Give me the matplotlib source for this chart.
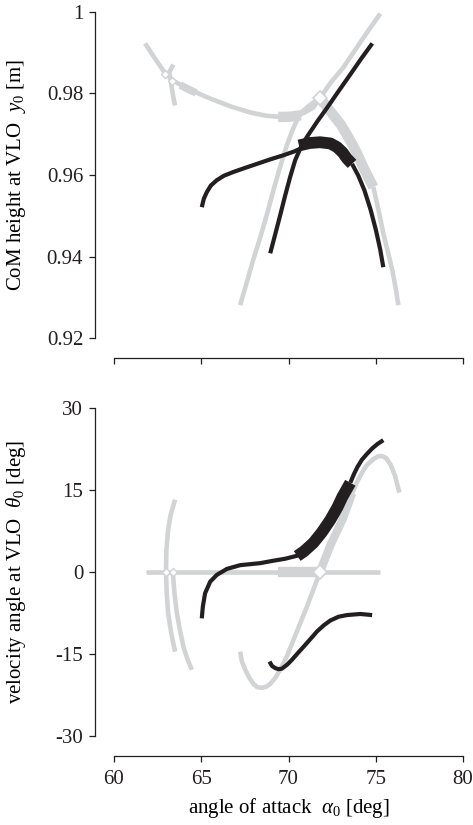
import matplotlib
matplotlib.use("Agg")
import matplotlib.pyplot as plt

plt.rcParams["font.family"] = ["Liberation Serif", "DejaVu Serif"]
plt.rcParams["mathtext.fontset"] = "custom"
plt.rcParams["mathtext.rm"] = "Liberation Serif"
plt.rcParams["mathtext.it"] = "Liberation Serif:italic"
plt.rcParams["axes.unicode_minus"] = False

GRAY = "#d1d3d4"
BLACK = "#231f20"
LW_THIN = 3.0
LW_GRAY = 3.3
LW_THICK = 8.5
LW_GRAY_THICK = 7.5

# ---------------- top panel: CoM height y0 vs alpha0 ----------------
# gray (unstable) branches
top_arc_a = [61.78, 62.24, 62.81, 63.38, 64.19, 65.34, 66.66, 67.80, 68.70, 69.52, 70.30, 70.90, 71.42, 71.80]
top_arc_y = [0.9922, 0.9892, 0.9856, 0.9831, 0.9812, 0.9790, 0.9768, 0.9753, 0.9745, 0.9742, 0.9744, 0.9752, 0.9765, 0.9788]
top_arc_thick_a = [63.80, 64.20, 64.70]
top_arc_thick_y = [0.9820, 0.9811, 0.9801]
top_arc_thick2_a = [69.41, 69.80, 70.20, 70.70]
top_arc_thick2_y = [0.9742, 0.9742, 0.9743, 0.9746]
top_left_a = [63.40, 63.16, 63.25, 63.31, 63.40, 63.50]
top_left_y = [0.9870, 0.9851, 0.9831, 0.9814, 0.9790, 0.9770]
top_up_a = [71.80, 72.40, 73.14, 74.29, 75.26]
top_up_y = [0.9788, 0.9825, 0.9863, 0.9936, 0.9995]
top_rise_a = [67.23, 67.60, 67.97, 68.40, 68.78, 69.15, 69.52, 69.90, 70.21, 70.50, 70.79, 71.10, 71.42, 71.80]
top_rise_y = [0.9281, 0.9336, 0.9391, 0.9450, 0.9506, 0.9565, 0.9620, 0.9672, 0.9708, 0.9736, 0.9755, 0.9767, 0.9777, 0.9788]
top_fall_thick_a = [71.80, 72.50, 73.00, 73.43, 73.90, 74.29, 74.86]
top_fall_thick_y = [0.9788, 0.9750, 0.9723, 0.9692, 0.9655, 0.9618, 0.9570]
top_fall_a = [74.86, 75.20, 75.43, 75.70, 75.95, 76.15, 76.29]
top_fall_y = [0.9570, 0.9505, 0.9457, 0.9410, 0.9366, 0.9320, 0.9281]
top_fix_a = [62.93, 63.31, 71.80]
top_fix_y = [0.9848, 0.9831, 0.9788]

# black (stable) branches
top_b1_a = [65.03, 65.15, 65.32, 65.55, 65.89, 66.30, 66.83, 67.50, 68.19, 68.95, 69.70, 70.30, 70.67]
top_b1_y = [0.9521, 0.9542, 0.9558, 0.9574, 0.9587, 0.9598, 0.9607, 0.9617, 0.9627, 0.9638, 0.9648, 0.9657, 0.9664]
top_b1_thick_a = [70.60, 71.20, 71.80, 72.40, 72.78, 73.10, 73.35, 73.64]
top_b1_thick_y = [0.9672, 0.9678, 0.9680, 0.9677, 0.9668, 0.9655, 0.9640, 0.9627]
top_b1_tail_a = [73.64, 74.00, 74.35, 74.70, 75.00, 75.25, 75.43]
top_b1_tail_y = [0.9627, 0.9598, 0.9562, 0.9515, 0.9466, 0.9418, 0.9374]
top_b2_a = [68.95, 69.24, 69.52, 69.81, 70.10, 70.38, 70.73, 71.07, 71.65, 72.22, 72.85, 73.54, 74.17, 74.80]
top_b2_y = [0.9408, 0.9455, 0.9501, 0.9550, 0.9596, 0.9636, 0.9670, 0.9694, 0.9731, 0.9765, 0.9804, 0.9846, 0.9885, 0.9922]

# ---------------- bottom panel: velocity angle theta0 vs alpha0 ----------------
bot_flat_a = [61.84, 75.26]
bot_flat_t = [0.0, 0.0]
bot_flat_thick_a = [69.41, 71.65]
bot_flat_thick_t = [0.0, 0.0]
bot_arc1_a = [63.50, 63.25, 63.10, 63.00, 62.98, 63.02, 63.10, 63.28, 63.50]
bot_arc1_t = [13.2, 10.5, 7.7, 3.9, 0.0, -3.8, -7.5, -11.2, -14.6]
bot_arc2_a = [63.37, 63.46, 63.60, 63.78, 63.98, 64.20, 64.46]
bot_arc2_t = [0.0, -3.8, -7.5, -10.7, -13.7, -15.9, -17.9]
bot_s_a = [67.23, 67.33, 67.52, 67.76, 67.99, 68.22, 68.47, 68.72, 68.95, 69.24, 69.52, 69.91, 70.29, 70.67, 71.06, 71.63, 71.80]
bot_s_t = [-14.6, -16.4, -17.9, -19.4, -20.5, -21.1, -21.2, -21.0, -20.5, -19.4, -17.9, -15.4, -12.4, -9.4, -6.3, -1.5, 0.0]
bot_s_thick_a = [71.80, 72.39, 73.08, 73.65]
bot_s_thick_t = [0.0, 4.8, 9.5, 14.4]
bot_s_top_a = [73.65, 73.90, 74.20, 74.50, 74.86, 75.10, 75.35, 75.60, 75.85, 76.10, 76.35]
bot_s_top_t = [14.4, 16.3, 18.1, 19.6, 20.6, 21.1, 21.2, 20.8, 19.6, 17.6, 14.5]
bot_fix_a = [63.00, 63.37, 71.80]
bot_fix_t = [0.0, 0.0, 0.0]

bot_b1_a = [65.03, 65.09, 65.22, 65.51, 65.89, 66.47, 67.23, 68.38, 69.14, 69.80, 70.30, 70.55]
bot_b1_t = [-8.5, -6.35, -3.9, -1.8, -0.55, 0.55, 1.23, 1.6, 2.05, 2.4, 2.8, 3.0]
bot_b1_thick_a = [70.50, 70.90, 71.42, 71.90, 72.39, 72.80, 73.08, 73.54]
bot_b1_thick_t = [2.9, 3.8, 5.3, 7.2, 9.5, 11.8, 13.7, 16.3]
bot_b1_tail_a = [73.54, 73.75, 73.95, 74.20, 74.50, 74.80, 75.10, 75.43]
bot_b1_tail_t = [16.3, 17.9, 19.2, 20.5, 21.6, 22.6, 23.4, 24.1]
bot_b2_a = [68.91, 69.05, 69.24, 69.43, 69.62, 69.91, 70.19, 70.52, 70.86, 71.25, 71.63, 72.01, 72.39, 72.87, 73.35, 74.11, 74.79]
bot_b2_t = [-16.4, -17.2, -17.6, -17.8, -17.7, -17.0, -16.1, -14.9, -13.7, -12.3, -10.9, -9.8, -8.9, -8.2, -7.9, -7.7, -7.9]

x_ticks = [60, 65, 70, 75, 80]
top_yticks = [0.92, 0.94, 0.96, 0.98, 1.0]
top_yticklabels = ["0.92", "0.94", "0.96", "0.98", "1"]
bot_yticks = [-30, -15, 0, 15, 30]
bot_yticklabels = ["-30", "-15", "0", "15", "30"]

fig = plt.figure(figsize=(4.73, 8.25), dpi=100)
ax1 = fig.add_axes([0.241, 0.590, 0.738, 0.396])
ax2 = fig.add_axes([0.241, 0.108, 0.738, 0.3976])


def line(ax, x, y, color, lw, z=2):
    ax.plot(x, y, color=color, lw=lw, solid_capstyle="butt", solid_joinstyle="round", zorder=z)


def style(ax):
    for s in ("top", "right"):
        ax.spines[s].set_visible(False)
    ax.spines["left"].set_position(("outward", 13.7))
    ax.spines["bottom"].set_position(("outward", 14.4))
    for s in ("left", "bottom"):
        ax.spines[s].set_linewidth(0.9)
        ax.spines[s].set_color(BLACK)
    ax.tick_params(direction="out", length=4.5, width=0.9, labelsize=15, colors=BLACK, pad=4)
    ax.tick_params(axis="x", pad=6)
    ax.set_xlim(60, 80)
    ax.set_xticks(x_ticks)


# top panel
line(ax1, top_arc_a, top_arc_y, GRAY, LW_GRAY)
line(ax1, top_arc_thick_a, top_arc_thick_y, GRAY, 5.5)
line(ax1, top_arc_thick2_a, top_arc_thick2_y, GRAY, LW_GRAY_THICK)
line(ax1, top_left_a, top_left_y, GRAY, LW_GRAY)
line(ax1, top_up_a, top_up_y, GRAY, LW_GRAY)
line(ax1, top_rise_a, top_rise_y, GRAY, LW_GRAY)
line(ax1, top_fall_thick_a, top_fall_thick_y, GRAY, LW_GRAY_THICK)
line(ax1, top_fall_a, top_fall_y, GRAY, LW_GRAY)
ax1.plot(top_fix_a[:2], top_fix_y[:2], "D", ms=4.5, mfc="white", mec=GRAY, mew=1.0, zorder=4)
ax1.plot(top_fix_a[2:], top_fix_y[2:], "D", ms=7.5, mfc="white", mec=GRAY, mew=1.2, zorder=4)
line(ax1, top_b1_a, top_b1_y, BLACK, LW_THIN, 5)
line(ax1, top_b1_thick_a, top_b1_thick_y, BLACK, LW_THICK, 5)
line(ax1, top_b1_tail_a, top_b1_tail_y, BLACK, LW_THIN, 5)
line(ax1, top_b2_a, top_b2_y, BLACK, LW_THIN, 5)

style(ax1)
ax1.set_ylim(0.92, 1.0)
ax1.set_yticks(top_yticks)
ax1.set_yticklabels(top_yticklabels)
ax1.set_xticklabels([])
ax1.set_ylabel(r"CoM height at VLO  $\mathit{y}_{\mathit{0}}$ [m]", fontsize=15)
ax1.yaxis.set_label_coords(-0.245, 0.5)

# bottom panel
line(ax2, bot_flat_a, bot_flat_t, GRAY, LW_GRAY)
line(ax2, bot_flat_thick_a, bot_flat_thick_t, GRAY, LW_GRAY_THICK)
line(ax2, bot_arc1_a, bot_arc1_t, GRAY, LW_GRAY)
line(ax2, bot_arc2_a, bot_arc2_t, GRAY, LW_GRAY)
line(ax2, bot_s_a, bot_s_t, GRAY, LW_GRAY)
line(ax2, bot_s_thick_a, bot_s_thick_t, GRAY, 6.0)
line(ax2, bot_s_top_a, bot_s_top_t, GRAY, LW_GRAY)
ax2.plot(bot_fix_a[:2], bot_fix_t[:2], "D", ms=4.5, mfc="white", mec=GRAY, mew=1.0, zorder=4)
ax2.plot(bot_fix_a[2:], bot_fix_t[2:], "D", ms=7.5, mfc="white", mec=GRAY, mew=1.2, zorder=4)
line(ax2, bot_b1_a, bot_b1_t, BLACK, LW_THIN, 5)
line(ax2, bot_b1_thick_a, bot_b1_thick_t, BLACK, LW_THICK, 5)
line(ax2, bot_b1_tail_a, bot_b1_tail_t, BLACK, LW_THIN, 5)
line(ax2, bot_b2_a, bot_b2_t, BLACK, LW_THIN, 5)

style(ax2)
ax2.set_ylim(-30, 30)
ax2.set_yticks(bot_yticks)
ax2.set_yticklabels(bot_yticklabels)
ax2.set_ylabel(r"velocity angle at VLO  $\theta_{\mathrm{0}}$ [deg]", fontsize=15)
ax2.yaxis.set_label_coords(-0.245, 0.5)
ax2.set_xlabel(r"angle of attack  $\alpha_{\mathrm{0}}$ [deg]", fontsize=15, labelpad=5)

fig.savefig("out.png", dpi=100)
